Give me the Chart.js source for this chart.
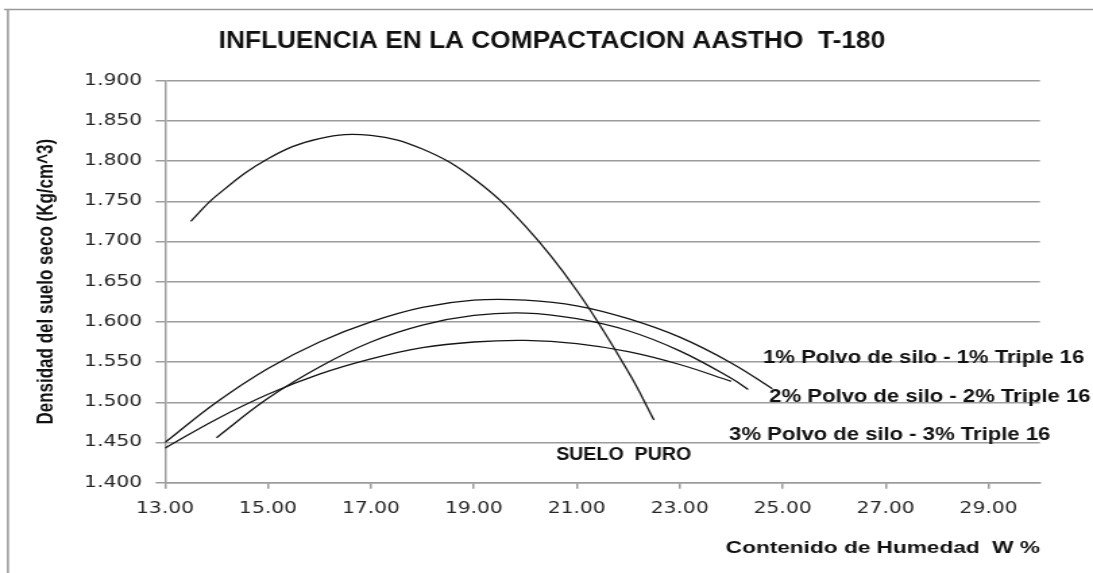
<!DOCTYPE html>
<html><head><meta charset="utf-8">
<script src="https://cdn.jsdelivr.net/npm/chart.js@4.4.0/dist/chart.umd.min.js"></script>
<style>html,body{margin:0;padding:0;background:#fff;overflow:hidden}
#c{display:block;width:1093px;height:573px}</style>
</head><body>
<canvas id="c" width="810" height="573" style="width:1093px;height:573px"></canvas>
<script>
// ---- data ----
const xTicks = [13, 15, 17, 19, 21, 23, 25, 27, 29];
const yTicks = [1.40, 1.45, 1.50, 1.55, 1.60, 1.65, 1.70, 1.75, 1.80, 1.85, 1.90];

const sueloX = [13.5, 14, 15, 16, 17, 18, 19, 20, 21, 22, 22.5];
const sueloY = [1.725, 1.757, 1.803, 1.828, 1.832, 1.815, 1.778, 1.719, 1.639, 1.538, 1.478];

const mix1X = [13, 14, 15, 16, 17, 18, 19, 20, 21, 22, 23, 24, 24.8];
const mix1Y = [1.450, 1.500, 1.542, 1.575, 1.600, 1.618, 1.627, 1.627, 1.620, 1.604, 1.581, 1.549, 1.517];

const mix2X = [14, 15, 16, 17, 18, 19, 20, 21, 22, 23, 24, 24.33];
const mix2Y = [1.456, 1.505, 1.544, 1.575, 1.596, 1.608, 1.611, 1.604, 1.589, 1.564, 1.530, 1.516];

const mix3X = [13, 14, 15, 16, 17, 18, 19, 20, 21, 22, 23, 24];
const mix3Y = [1.443, 1.479, 1.510, 1.535, 1.554, 1.568, 1.575, 1.577, 1.573, 1.563, 1.547, 1.526];

const seriesNames = ['SUELO  PURO', '1% Polvo de silo - 1% Triple 16', '2% Polvo de silo - 2% Triple 16', '3% Polvo de silo - 3% Triple 16'];
const chartTitle = 'INFLUENCIA EN LA COMPACTACION AASTHO  T-180';
const xTitle = 'Contenido de Humedad  W %';
const yTitle = 'Densidad del suelo seco (Kg/cm^3)';

// ---- helpers ----
const SANS = '"Liberation Sans", Arial, sans-serif';
const mctx = document.createElement('canvas').getContext('2d');
function fitSize(text, family, maxSize, target) {
  mctx.font = `bold ${maxSize}px ${family}`;
  const w = mctx.measureText(text).width;
  return Math.min(maxSize, maxSize * target / w);
}
const yTitleSize = fitSize(yTitle, SANS, 17, 288);
const xTitleSize = fitSize(xTitle, SANS, 18, 233);

// draw bold text condensed horizontally to a given width
function drawFitted(c, text, size, targetW, x, y, align) {
  c.save();
  c.font = `bold ${size}px ${SANS}`;
  const w = c.measureText(text).width;
  const sx = Math.min(1, targetW / w);
  c.translate(x, y);
  c.scale(sx, 1);
  c.textAlign = align;
  c.textBaseline = 'middle';
  c.fillText(text, 0, 0);
  c.restore();
}

const toPts = (xs, ys) => xs.map((x, i) => ({x: x, y: ys[i]}));
const lineStyle = {borderColor: '#151515', backgroundColor: '#151515', borderWidth: 1.3, pointRadius: 0, tension: 0.4, fill: false};

const frame = {
  id: 'frame',
  beforeDraw(chart) {
    const c = chart.ctx;
    c.save();
    c.strokeStyle = '#9a9a9a';
    c.lineWidth = 1.5;
    c.beginPath();
    c.moveTo(3, 9.5); c.lineTo(chart.width, 9.5);
    c.moveTo(5.9, 9.5); c.lineTo(5.9, chart.height);
    c.stroke();
    c.restore();
  }
};

const annot = {
  id: 'annot',
  afterDatasetsDraw(chart) {
    const c = chart.ctx, xs = chart.scales.x, ys = chart.scales.y;
    c.save();
    c.fillStyle = '#111';
    // chart title, centred over the plot
    drawFitted(c, chartTitle, 24, 494, 409, 41.5, 'center');
    const specs = [
      {t: seriesNames[1], x: 24.62, y: 1.555, s: 18, w: 238},
      {t: seriesNames[2], x: 24.74, y: 1.507, s: 18, w: 238},
      {t: seriesNames[3], x: 23.96, y: 1.459, s: 18, w: 238},
      {t: seriesNames[0], x: 20.60, y: 1.4345, s: 18, w: 100}
    ];
    specs.forEach(p => drawFitted(c, p.t, p.s, p.w, xs.getPixelForValue(p.x), ys.getPixelForValue(p.y), 'left'));
    c.restore();
  }
};

new Chart(document.getElementById('c'), {
  type: 'line',
  data: {
    datasets: [
      Object.assign({label: seriesNames[0], data: toPts(sueloX, sueloY)}, lineStyle),
      Object.assign({label: seriesNames[1], data: toPts(mix1X, mix1Y)}, lineStyle),
      Object.assign({label: seriesNames[2], data: toPts(mix2X, mix2Y)}, lineStyle),
      Object.assign({label: seriesNames[3], data: toPts(mix3X, mix3Y)}, lineStyle)
    ]
  },
  options: {
    responsive: false,
    animation: false,
    devicePixelRatio: 1,
    layout: {padding: {left: 0, right: 39.3, top: 80.7, bottom: 0}},
    plugins: {
      legend: {display: false},
      tooltip: {enabled: false},
      title: {display: false}
    },
    scales: {
      x: {
        type: 'linear', min: 13, max: 30,
        afterBuildTicks: s => { s.ticks = xTicks.map(v => ({value: v})); },
        afterFit: s => { s.height = 573 - 482.7; },
        ticks: {callback: v => Number(v).toFixed(2), font: {family: '"DejaVu Sans"', size: 15}, color: '#262626', padding: 11, maxRotation: 0, autoSkip: false},
        grid: {display: true, drawOnChartArea: false, drawTicks: true, tickLength: 6, color: '#9c9c9c', lineWidth: 1.5},
        border: {display: true, color: '#9c9c9c', width: 1.5},
        title: {display: true, text: xTitle, align: 'end', color: '#111',
          font: {family: SANS, size: xTitleSize, weight: 'bold', lineHeight: 1.2},
          padding: {top: 0, bottom: 24.5 - xTitleSize * 0.6}}
      },
      y: {
        type: 'linear', min: 1.4, max: 1.9,
        afterBuildTicks: s => { s.ticks = yTicks.map(v => ({value: v})); },
        afterFit: s => { s.width = 122.3; },
        ticks: {callback: v => Number(v).toFixed(3), font: {family: '"DejaVu Sans"', size: 15}, color: '#262626', padding: 10},
        grid: {color: '#9c9c9c', lineWidth: 1.5, tickLength: 7},
        border: {color: '#9c9c9c', width: 1.5},
        title: {display: true, text: yTitle, color: '#111',
          font: {family: SANS, size: yTitleSize, weight: 'bold', lineHeight: 1.2},
          padding: {top: 34 - yTitleSize * 0.6, bottom: 0}}
      }
    }
  },
  plugins: [frame, annot]
});
</script>
</body></html>
